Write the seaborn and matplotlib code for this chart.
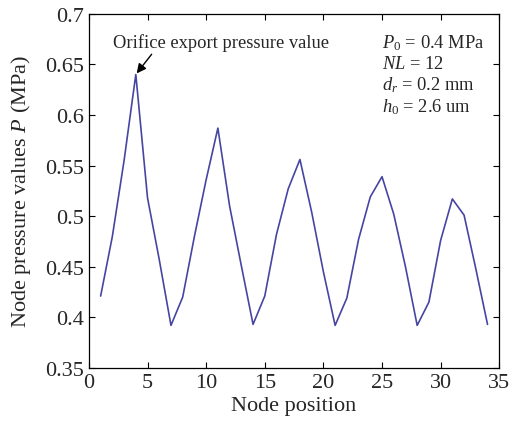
import matplotlib
matplotlib.use("Agg")
import matplotlib.pyplot as plt
import seaborn as sns
import pandas as pd

# Node pressure distribution along the film
node_position = list(range(1, 35))
node_pressure = [0.421, 0.480, 0.555, 0.640, 0.518, 0.457, 0.392,
                 0.420, 0.480, 0.536, 0.587, 0.510, 0.451, 0.393,
                 0.421, 0.482, 0.527, 0.556, 0.504, 0.445, 0.392,
                 0.419, 0.477, 0.519, 0.539, 0.502, 0.450, 0.392,
                 0.415, 0.476, 0.517, 0.501, 0.448, 0.393]

x_ticks = [0, 5, 10, 15, 20, 25, 30, 35]
y_ticks = [0.35, 0.4, 0.45, 0.5, 0.55, 0.6, 0.65, 0.7]
y_tick_labels = ["0.35", "0.4", "0.45", "0.5", "0.55", "0.6", "0.65", "0.7"]

param_lines = ["$P_0$ = 0.4 MPa", "$NL$ = 12", "$d_r$ = 0.2 mm", "$h_0$ = 2.6 um"]
annotation_text = "Orifice export pressure value"
peak_index = 3

sns.set_style("ticks")
plt.rcParams["font.family"] = ["Liberation Serif", "DejaVu Serif"]
plt.rcParams["mathtext.fontset"] = "custom"
plt.rcParams["mathtext.rm"] = "Liberation Serif"
plt.rcParams["mathtext.it"] = "Liberation Serif:italic"
plt.rcParams["xtick.direction"] = "in"
plt.rcParams["ytick.direction"] = "in"

df = pd.DataFrame({"node": node_position, "pressure": node_pressure})

fig = plt.figure(figsize=(5.11, 4.35), dpi=100)
ax = fig.add_axes([0.174, 0.152, 0.803, 0.814])

sns.lineplot(data=df, x="node", y="pressure", ax=ax, color="#4646a2", linewidth=1.2)

ax.set_xlim(0, 35)
ax.set_ylim(0.35, 0.7)
ax.set_xticks(x_ticks)
ax.set_yticks(y_ticks)
ax.set_yticklabels(y_tick_labels)
ax.tick_params(axis="both", labelsize=16, length=4, width=0.8,
               top=True, right=True, color="black")
for s in ax.spines.values():
    s.set_color("black")
    s.set_linewidth(0.9)

ax.set_xlabel("Node position", fontsize=16, labelpad=3)
ax.set_ylabel("Node pressure values $P$ (MPa)", fontsize=16, labelpad=9)

# label above the first peak with an arrow pointing to it
ax.text(2.05, 0.6725, annotation_text, fontsize=13.3, va="center", ha="left")
ax.annotate("",
            xy=(node_position[peak_index], node_pressure[peak_index]),
            xytext=(5.35, 0.660), textcoords="data",
            arrowprops=dict(arrowstyle="-|>", color="black", lw=1.0,
                            mutation_scale=14, shrinkA=0, shrinkB=1))

for i, line in enumerate(param_lines):
    ax.text(25.0, 0.672 - i * 0.021, line, fontsize=13.3, va="center", ha="left")

fig.savefig("out.png", dpi=100)
